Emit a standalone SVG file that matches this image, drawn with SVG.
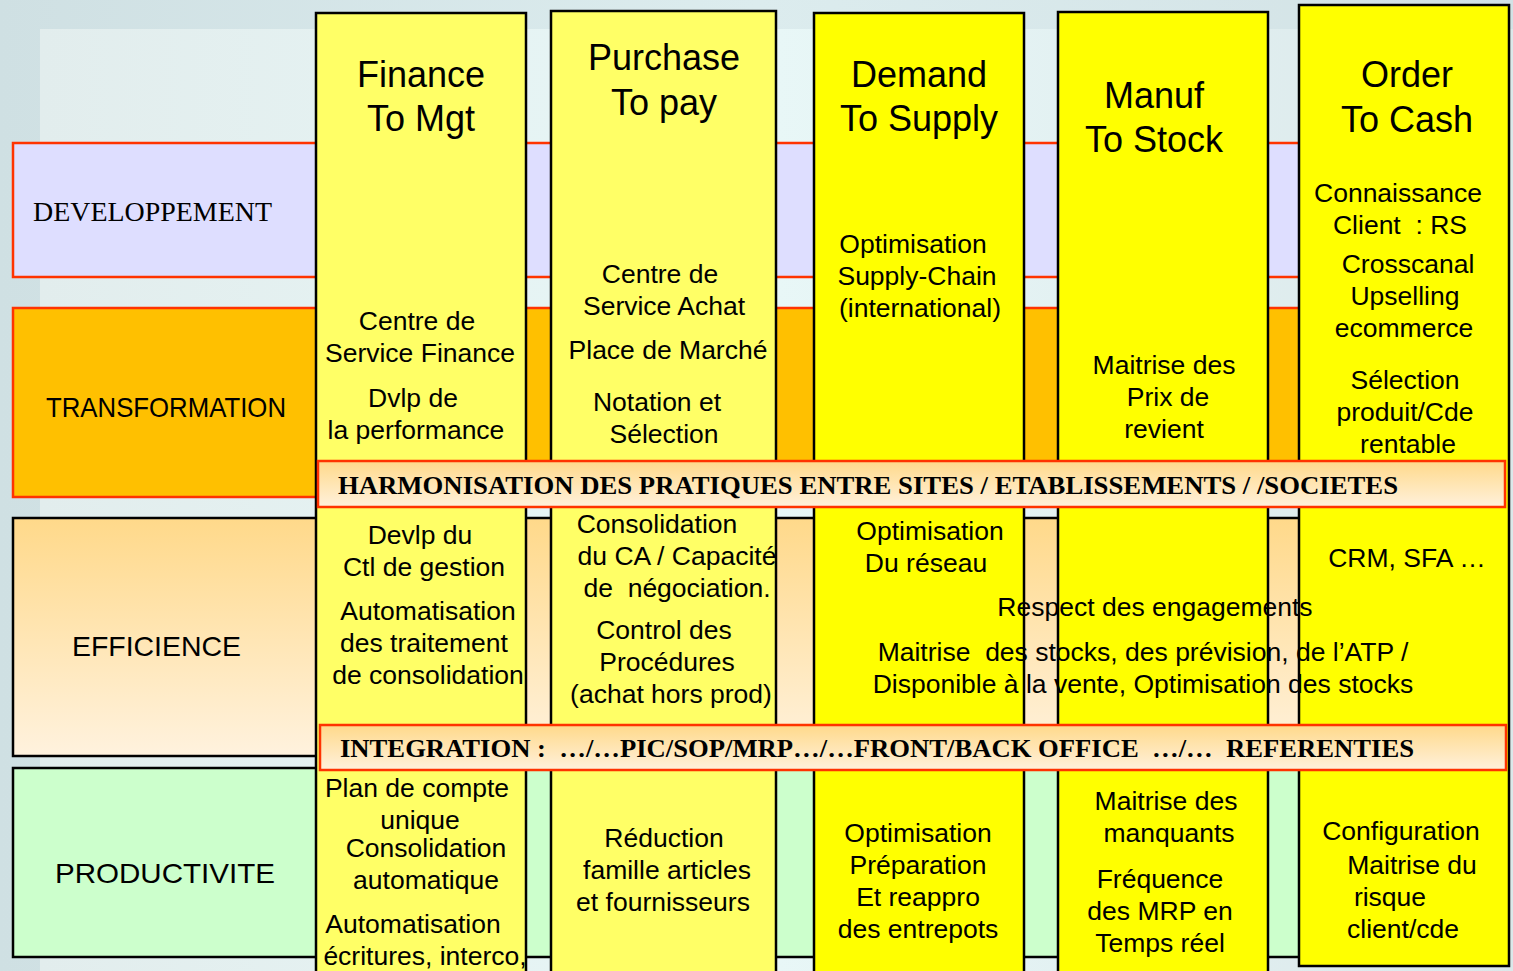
<svg xmlns="http://www.w3.org/2000/svg" width="1513" height="971" viewBox="0 0 1513 971">
<defs>
<linearGradient id="bgOuter" x1="0" y1="0" x2="1" y2="0">
<stop offset="0" stop-color="#cfe0e3"/><stop offset="0.5" stop-color="#dcecee"/><stop offset="1" stop-color="#d2e2e5"/>
</linearGradient>
<linearGradient id="bgInner" x1="0" y1="0" x2="1" y2="0">
<stop offset="0" stop-color="#e2eded"/><stop offset="0.5" stop-color="#e8f7f7"/><stop offset="1" stop-color="#dbe8ea"/>
</linearGradient>
<linearGradient id="effGrad" x1="0" y1="0" x2="0" y2="1">
<stop offset="0" stop-color="#ffd98a"/><stop offset="1" stop-color="#fff2de"/>
</linearGradient>
<linearGradient id="bandGrad" x1="0" y1="0" x2="0" y2="1">
<stop offset="0" stop-color="#ffd98a"/><stop offset="1" stop-color="#fff1dc"/>
</linearGradient>
</defs>
<style>
.col{stroke:#000;stroke-width:2.5}
.pale{fill:#ffff66}
.bright{fill:#ffff00}
.redb{stroke:#ff3300;stroke-width:2.5}
.blkb{stroke:#000;stroke-width:2.5}
.hdr{font-family:"Liberation Sans",Arial,sans-serif;font-size:36px;fill:#000;text-anchor:middle}
.row{font-family:"Liberation Sans",Arial,sans-serif;font-size:28px;fill:#000}
.t{font-family:"Liberation Sans",Arial,sans-serif;font-size:26.5px;fill:#000;text-anchor:middle;white-space:pre}
.band{font-family:"Liberation Serif","Times New Roman",serif;font-weight:bold;font-size:25px;fill:#000;white-space:pre}
</style>

<g id="background">
<rect x="0" y="0" width="1513" height="971" fill="url(#bgOuter)"/>
<rect x="40" y="29" width="1473" height="942" fill="url(#bgInner)"/>
</g>

<g id="row-developpement">
<rect x="13" y="143" width="1495" height="134" fill="#dedeff" class="redb"/>
<text x="33" y="221" font-family="Liberation Serif,Times New Roman,serif" font-size="28" textLength="239" lengthAdjust="spacingAndGlyphs">DEVELOPPEMENT</text>
</g>
<g id="row-transformation">
<rect x="13" y="308" width="1495" height="189" fill="#ffc000" class="redb"/>
<text class="row" x="46" y="417" textLength="240" lengthAdjust="spacingAndGlyphs">TRANSFORMATION</text>
</g>
<g id="row-efficience">
<rect x="13" y="518" width="1495" height="238" fill="url(#effGrad)" class="blkb"/>
<text class="row" x="72" y="656" textLength="169" lengthAdjust="spacingAndGlyphs">EFFICIENCE</text>
</g>
<g id="row-productivite">
<rect x="13" y="768" width="1495" height="189" fill="#ccffcc" class="blkb"/>
<text class="row" x="55" y="883" textLength="220" lengthAdjust="spacingAndGlyphs">PRODUCTIVITE</text>
</g>

<g id="col-finance">
<rect x="316" y="13" width="210" height="970" class="col pale"/>
<text class="hdr" x="421" y="87">Finance</text>
<text class="hdr" x="421" y="131">To Mgt</text>
</g>
<g id="col-purchase">
<rect x="551" y="11" width="225" height="970" class="col pale"/>
<text class="hdr" x="664" y="70">Purchase</text>
<text class="hdr" x="664" y="115">To pay</text>
</g>
<g id="col-demand">
<rect x="814" y="13" width="210" height="970" class="col bright"/>
<text class="hdr" x="919" y="87">Demand</text>
<text class="hdr" x="919" y="131">To Supply</text>
</g>
<g id="col-manuf">
<rect x="1058" y="12" width="210" height="970" class="col bright"/>
<text class="hdr" x="1154" y="108">Manuf</text>
<text class="hdr" x="1154" y="152">To Stock</text>
</g>
<g id="col-order">
<rect x="1299" y="5" width="210" height="961" class="col bright" stroke-width="3"/>
<text class="hdr" x="1407" y="87">Order</text>
<text class="hdr" x="1407" y="132">To Cash</text>
</g>

<g id="band-harmonisation">
<rect x="318" y="461" width="1187" height="46" fill="url(#bandGrad)" class="redb"/>
<text class="band" x="338" y="494" textLength="1060" lengthAdjust="spacingAndGlyphs">HARMONISATION DES PRATIQUES ENTRE SITES / ETABLISSEMENTS / /SOCIETES</text>
</g>
<g id="band-integration">
<rect x="320" y="725" width="1186" height="45" fill="url(#bandGrad)" class="redb"/>
<text class="band" x="340" y="757" textLength="1074" lengthAdjust="spacingAndGlyphs">INTEGRATION :  …/…PIC/SOP/MRP…/…FRONT/BACK OFFICE  …/…  REFERENTIES</text>
</g>

<g id="texts-finance">
<text class="t" x="417" y="330">Centre de</text>
<text class="t" x="420" y="362">Service Finance</text>
<text class="t" x="413" y="407">Dvlp de</text>
<text class="t" x="416" y="439">la performance</text>
<text class="t" x="420" y="544">Devlp du</text>
<text class="t" x="424" y="576">Ctl de gestion</text>
<text class="t" x="428" y="620">Automatisation</text>
<text class="t" x="424" y="652">des traitement</text>
<text class="t" x="428" y="684">de consolidation</text>
<text class="t" x="417" y="797">Plan de compte</text>
<text class="t" x="420" y="829">unique</text>
<text class="t" x="426" y="857">Consolidation</text>
<text class="t" x="426" y="889">automatique</text>
<text class="t" x="413" y="933">Automatisation</text>
<text class="t" x="425" y="965">écritures, interco,</text>
</g>
<g id="texts-purchase">
<text class="t" x="660" y="283">Centre de</text>
<text class="t" x="664" y="315">Service Achat</text>
<text class="t" x="668" y="359">Place de Marché</text>
<text class="t" x="657" y="411">Notation et</text>
<text class="t" x="664" y="443">Sélection</text>
<text class="t" x="657" y="533">Consolidation</text>
<text class="t" x="677" y="565">du CA / Capacité</text>
<text class="t" x="677" y="597">de  négociation.</text>
<text class="t" x="664" y="639">Control des</text>
<text class="t" x="667" y="671">Procédures</text>
<text class="t" x="671" y="703">(achat hors prod)</text>
<text class="t" x="664" y="847">Réduction</text>
<text class="t" x="667" y="879">famille articles</text>
<text class="t" x="663" y="911">et fournisseurs</text>
</g>
<g id="texts-demand">
<text class="t" x="913" y="253">Optimisation</text>
<text class="t" x="917" y="285">Supply-Chain</text>
<text class="t" x="920" y="317">(international)</text>
<text class="t" x="930" y="540">Optimisation</text>
<text class="t" x="926" y="572">Du réseau</text>
<text class="t" x="918" y="842">Optimisation</text>
<text class="t" x="918" y="874">Préparation</text>
<text class="t" x="918" y="906">Et reappro</text>
<text class="t" x="918" y="938">des entrepots</text>
</g>
<g id="texts-span">
<text class="t" x="1155" y="616">Respect des engagements</text>
<text class="t" x="1143" y="661">Maitrise  des stocks, des prévision, de l’ATP /</text>
<text class="t" x="1143" y="693">Disponible à la vente, Optimisation des stocks</text>
</g>
<g id="texts-manuf">
<text class="t" x="1164" y="374">Maitrise des</text>
<text class="t" x="1168" y="406">Prix de</text>
<text class="t" x="1164" y="438">revient</text>
<text class="t" x="1166" y="810">Maitrise des</text>
<text class="t" x="1169" y="842">manquants</text>
<text class="t" x="1160" y="888">Fréquence</text>
<text class="t" x="1160" y="920">des MRP en</text>
<text class="t" x="1160" y="952">Temps réel</text>
</g>
<g id="texts-order">
<text class="t" x="1398" y="202">Connaissance</text>
<text class="t" x="1400" y="234">Client  : RS</text>
<text class="t" x="1408" y="273">Crosscanal</text>
<text class="t" x="1405" y="305">Upselling</text>
<text class="t" x="1404" y="337">ecommerce</text>
<text class="t" x="1405" y="389">Sélection</text>
<text class="t" x="1405" y="421">produit/Cde</text>
<text class="t" x="1408" y="453">rentable</text>
<text class="t" x="1407" y="567">CRM, SFA …</text>
<text class="t" x="1401" y="840">Configuration</text>
<text class="t" x="1412" y="874">Maitrise du</text>
<text class="t" x="1390" y="906">risque</text>
<text class="t" x="1403" y="938">client/cde</text>
</g>
<g id="connectors"/>
</svg>
